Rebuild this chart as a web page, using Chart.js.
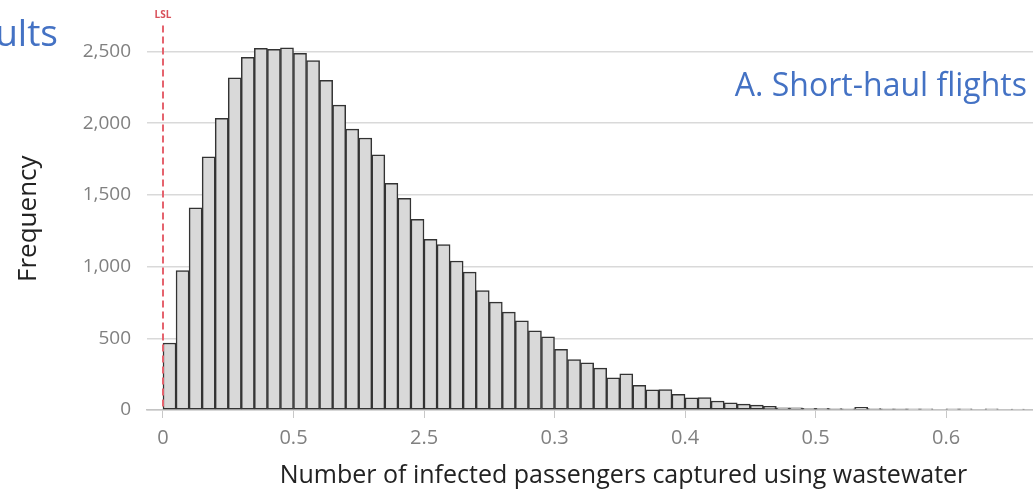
<!DOCTYPE html>
<html>
<head>
<meta charset="utf-8">
<title>Short-haul flights</title>
<script src="https://cdn.jsdelivr.net/npm/chart.js@4.4.1/dist/chart.umd.min.js"></script>
<style>
  html, body { margin: 0; padding: 0; background: #fff; overflow: hidden; }
  /* the reference is a crop of a wider figure, so the canvas runs past the window */
  #wrap { width: 1033px; height: 495px; overflow: hidden; }
</style>
</head>
<body>
<div id="wrap"><canvas id="myChart" width="1100" height="495"></canvas></div>
<script>
const ctx = document.getElementById('myChart');

// histogram: 66 bins of 0.01 starting at 0
const binWidth = 0.01;
const frequencies = [
    467, 972, 1409, 1766, 2034, 2317, 2460, 2522, 2515, 2526,
    2488, 2437, 2299, 2126, 1959, 1897, 1779, 1581, 1476, 1329,
    1191, 1154, 1039, 961, 832, 752, 683, 621, 552, 510,
    423, 352, 329, 292, 224, 253, 172, 140, 143, 109,
    84, 86, 63, 50, 41, 34, 25, 16, 16, 11,
    11, 10, 9, 18, 10, 9, 9, 8, 8, 0,
    8, 8, 0, 8, 0, 7
];
const xTickValues = [0, 0.1, 0.2, 0.3, 0.4, 0.5, 0.6];
const xTickLabels = ['0', '0.5', '2.5', '0.3', '0.4', '0.5', '0.6']; // as printed in the source
const yTickValues = [0, 500, 1000, 1500, 2000, 2500];
const yTickLabels = ['0', '500', '1,000', '1,500', '2,000', '2,500'];
const panelTitle = 'A. Short-haul flights';
const sectionTitle = 'Results';
const limitLabel = 'LSL';
const xTitle = 'Number of infected passengers captured using wastewater';
const yTitle = 'Frequency';

let points = [];
for (let i = 0; i < frequencies.length; i++) {
    points.push({ x: i * binWidth + binWidth / 2, y: frequencies[i] });
};

// LSL line at zero plus the free texts
const extras = {
    id: 'extras',
    afterDatasetsDraw(chart) {
        const c = chart.ctx;
        const area = chart.chartArea;
        const x0 = chart.scales.x.getPixelForValue(0);
        c.save();
        c.strokeStyle = '#e5636e';
        c.lineWidth = 2;
        c.setLineDash([7, 4]);
        c.beginPath();
        c.moveTo(x0, area.top - 2);
        c.lineTo(x0, area.bottom);
        c.stroke();
        c.setLineDash([]);
        c.fillStyle = '#d9505a';
        c.font = 'bold 10px "Open Sans"';
        c.textAlign = 'center';
        c.textBaseline = 'middle';
        c.fillText(limitLabel, x0, 15);
        c.fillStyle = '#4472c4';
        c.textAlign = 'right';
        c.textBaseline = 'alphabetic';
        c.font = '32px "Open Sans"';
        c.fillText(panelTitle, 1027, 96);
        c.font = '37px "Open Sans"';
        c.fillText(sectionTitle, 58, 46);
        c.restore();
    }
};

const grafico = new Chart(ctx, {
    type: 'bar',
    data: {
        datasets: [{
            data: points,
            backgroundColor: '#d9d9d9',
            borderColor: '#333333',
            borderWidth: 1.5,
            borderSkipped: false,
            barPercentage: 1,
            categoryPercentage: 1
        }]
    },
    options: {
        responsive: false,
        animation: false,
        layout: { padding: { top: 24, right: 0, bottom: 0, left: 0 } },
        plugins: {
            legend: { display: false },
            tooltip: { enabled: false }
        },
        scales: {
            x: {
                type: 'linear',
                bounds: 'data',
                offset: false,
                min: -0.01226,
                max: 0.718,
                afterFit: (scale) => { scale.height = 85; },
                afterBuildTicks: (scale) => { scale.ticks = xTickValues.map((v) => ({ value: v })); },
                grid: {
                    offset: false,
                    drawOnChartArea: false,
                    drawTicks: true,
                    tickLength: 8,
                    color: '#c8c8c8'
                },
                border: { display: true, color: '#c4c4c4', width: 1.5 },
                ticks: {
                    autoSkip: false,
                    maxRotation: 0,
                    padding: 8,
                    color: '#808080',
                    font: { family: 'Open Sans', size: 20 },
                    callback: (v, i) => xTickLabels[i]
                },
                title: {
                    display: true,
                    text: xTitle,
                    color: '#222',
                    font: { family: 'Open Sans', size: 25 },
                    padding: { top: 0, bottom: 4 }
                }
            },
            y: {
                bounds: 'data',
                min: 0,
                max: 2668,
                afterFit: (scale) => { scale.width = 147; },
                afterBuildTicks: (scale) => { scale.ticks = yTickValues.map((v) => ({ value: v })); },
                grid: {
                    drawTicks: false,
                    color: '#d9d9d9',
                    lineWidth: 1.5
                },
                border: { display: false },
                ticks: {
                    autoSkip: false,
                    padding: 16,
                    color: '#808080',
                    font: { family: 'Open Sans', size: 19 },
                    callback: (v, i) => yTickLabels[i]
                },
                title: {
                    display: true,
                    text: yTitle,
                    color: '#222',
                    font: { family: 'Open Sans', size: 26 },
                    padding: { top: 13, bottom: 0 }
                }
            }
        }
    },
    plugins: [extras]
});
</script>
</body>
</html>
